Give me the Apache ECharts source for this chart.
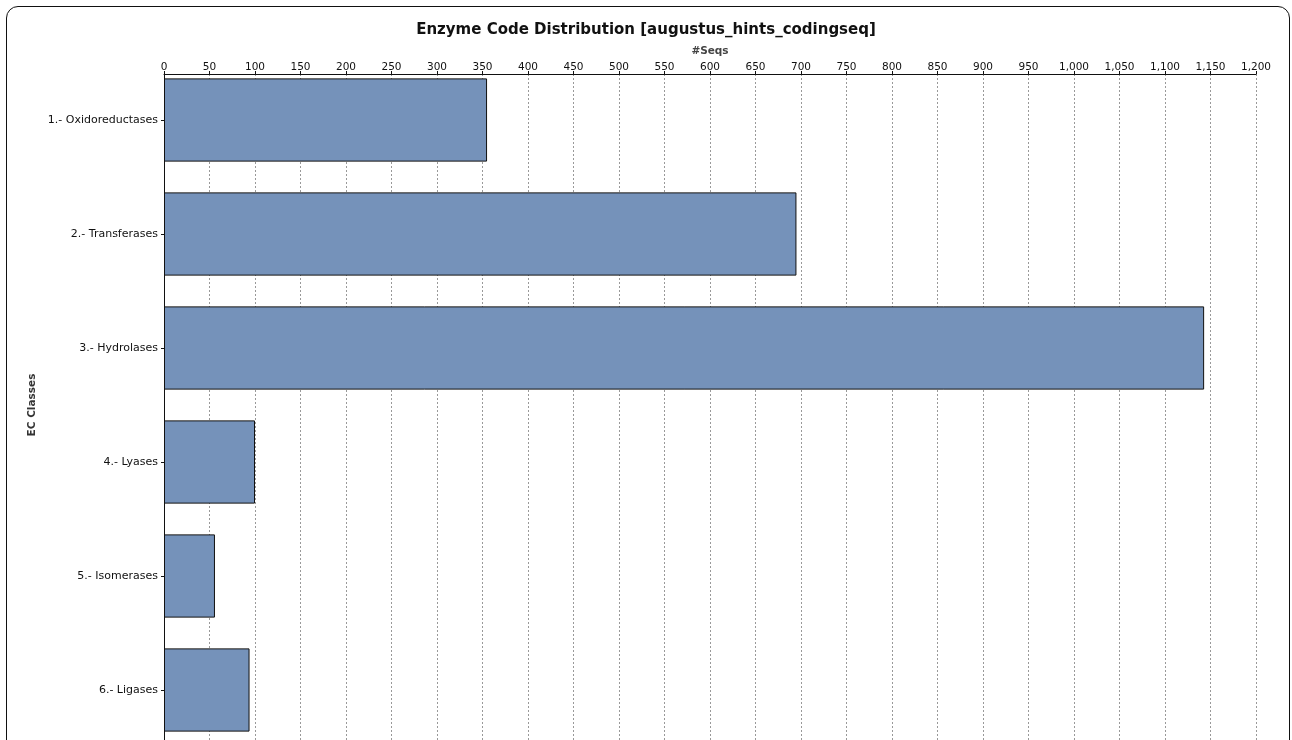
<!DOCTYPE html>
<html><head><meta charset="utf-8">
<script src="https://cdn.jsdelivr.net/npm/echarts@6/dist/echarts.min.js"></script>
<style>
html,body{margin:0;padding:0;background:#fff;overflow:hidden;}
#frame{position:absolute;left:6px;top:6px;width:1282px;height:800px;border:1.5px solid #111;border-radius:12px;}
#chart{position:absolute;left:0;top:0;width:1292px;height:740px;}
</style></head>
<body>
<div id="frame"></div>
<div id="chart"></div>
<script>
const categories = ['1.- Oxidoreductases','2.- Transferases','3.- Hydrolases','4.- Lyases','5.- Isomerases','6.- Ligases'];
const seqs = [355, 695, 1143, 100, 56, 94];
const xMin = 0, xMax = 1200, xStep = 50;

const chart = echarts.init(document.getElementById('chart'));
const font = 'DejaVu Sans, Verdana, sans-serif';
chart.setOption({
  animation: false,
  title: {text: 'Enzyme Code Distribution [augustus_hints_codingseq]', left: 'center', top: 18,
    textStyle: {fontFamily: font, fontSize: 15, fontWeight: 'bold', color: '#111'}},
  grid: [
    {left: 164, right: 36, top: 74, bottom: 0, containLabel: false, outerBoundsMode: 'none'},
    {left: 164, right: 36, top: 63, height: 684, containLabel: false, outerBoundsMode: 'none'}
  ],
  xAxis: [
    {gridIndex: 0, type: 'value', position: 'top', min: xMin, max: xMax, interval: xStep,
     name: '#Seqs', nameLocation: 'middle', nameGap: 17, nameMoveOverlap: false,
     nameTextStyle: {fontFamily: font, fontSize: 10.5, fontWeight: 'bold', color: '#444'},
     axisLine: {show: true, lineStyle: {color: '#111', width: 1}},
     axisTick: {show: true, length: 3, lineStyle: {color: '#111'}},
     axisLabel: {margin: 1, fontFamily: font, fontSize: 10.5, color: '#111'},
     splitLine: {show: true, lineStyle: {type: [2, 2], color: '#999', width: 1}}},
    {gridIndex: 1, type: 'value', min: xMin, max: xMax, show: false, splitLine: {show: false}}
  ],
  yAxis: [
    {gridIndex: 0, type: 'category', data: categories, inverse: true, offset: 2,
     axisLine: {show: true, lineStyle: {color: '#111', width: 1}},
     axisTick: {show: false}, axisLabel: {show: false}, splitLine: {show: false}},
    {gridIndex: 1, type: 'category', data: categories, inverse: true, offset: 2,
     name: 'EC Classes', nameLocation: 'middle', nameGap: 124, nameRotate: 90, nameMoveOverlap: false,
     nameTextStyle: {fontFamily: font, fontSize: 10.5, fontWeight: 'bold', color: '#333'},
     axisLine: {show: false},
     axisTick: {show: true, alignWithLabel: true, length: 3, lineStyle: {color: '#111'}},
     axisLabel: {margin: 4, fontFamily: font, fontSize: 11, color: '#111'},
     splitLine: {show: false}}
  ],
  series: [{
    type: 'bar', xAxisIndex: 1, yAxisIndex: 1, data: seqs,
    barCategoryGap: '27%',
    itemStyle: {color: '#7592ba', borderColor: '#111', borderWidth: 1}
  }]
});
</script>
</body></html>
